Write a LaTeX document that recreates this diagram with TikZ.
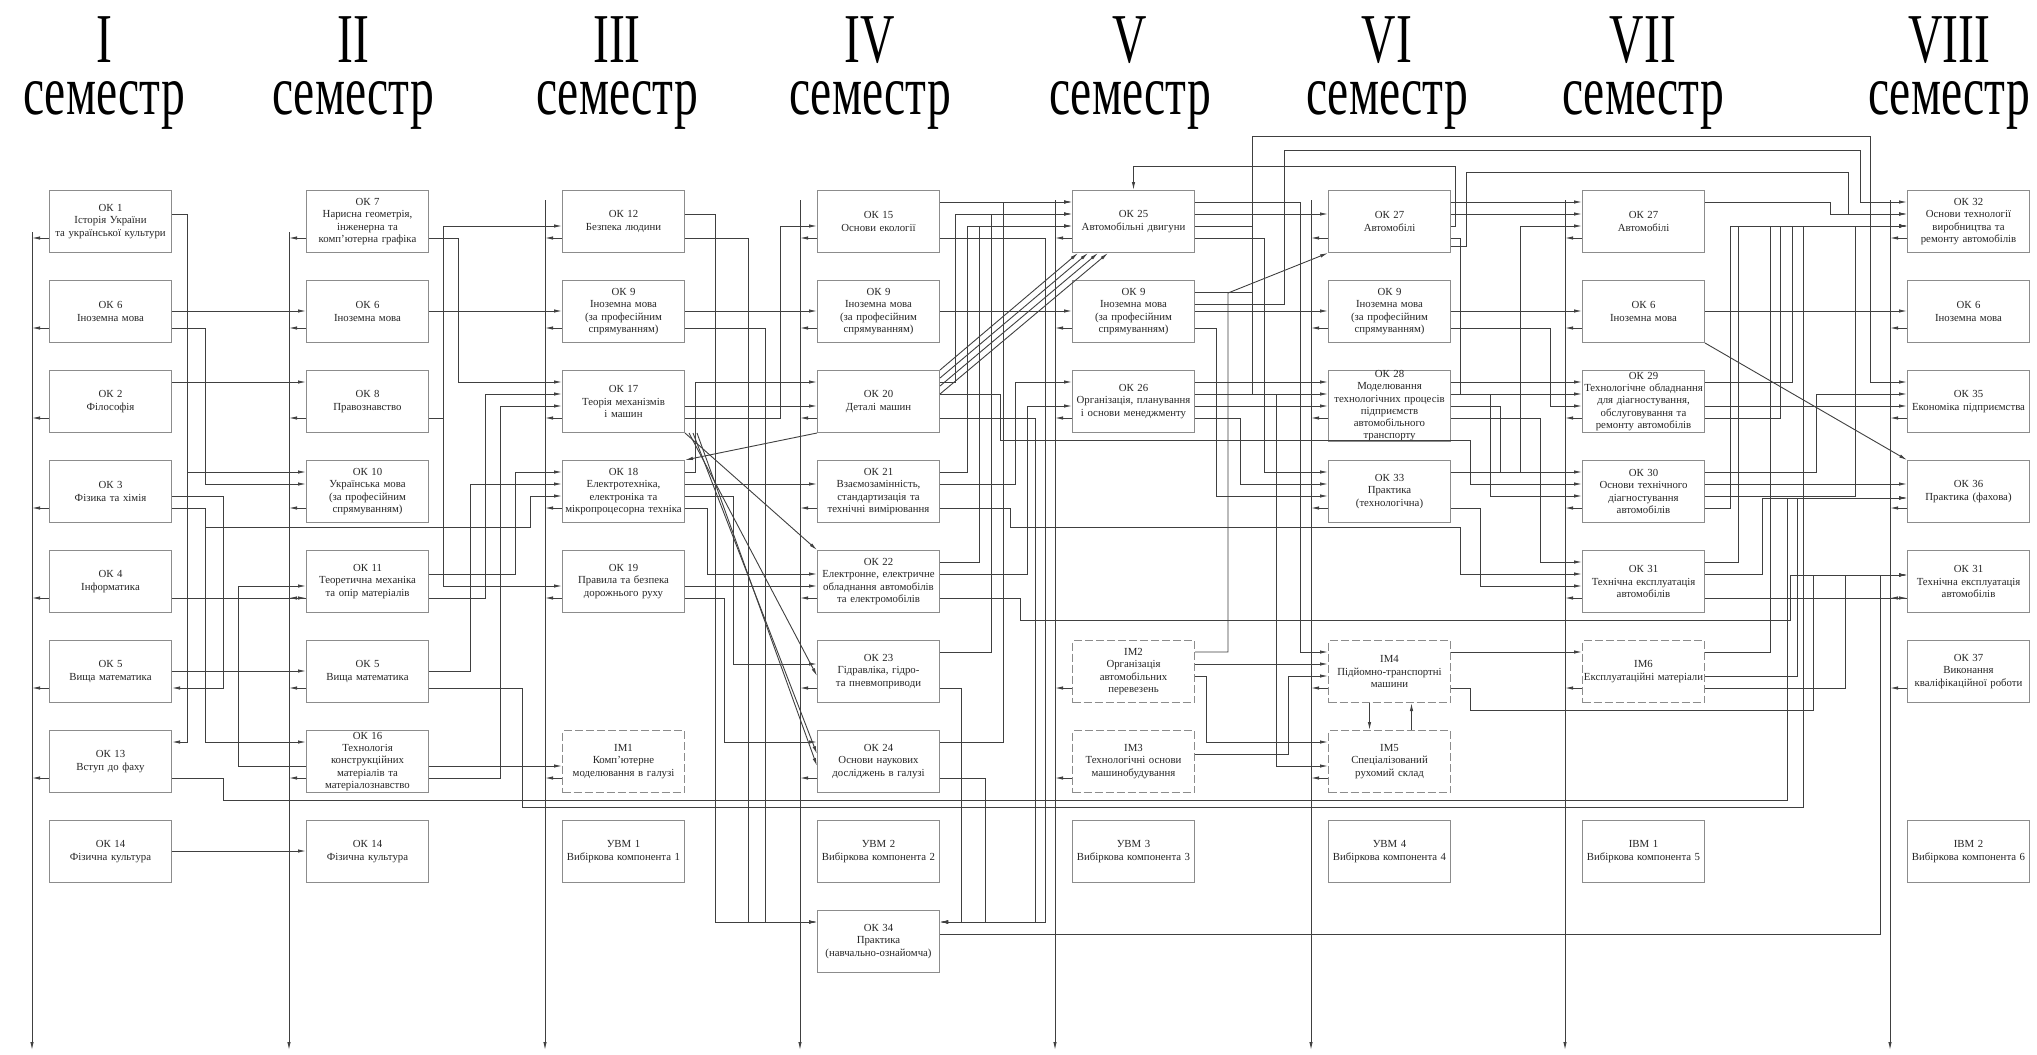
\documentclass[tikz,border=0pt]{standalone}
\usepackage{fontspec}
\usepackage{graphicx}
\setmainfont{Liberation Serif}
\usetikzlibrary{arrows.meta,calc}
\definecolor{lc}{gray}{0.25}
\definecolor{bc}{gray}{0.55}
\definecolor{tc}{gray}{0.15}
\begin{document}
\begin{tikzpicture}[x=0.5pt,y=-0.5pt,
 box/.style={draw=bc, line width=0.5pt, anchor=north west, minimum width=61pt, minimum height=31pt, text width=60pt, align=center, inner sep=0pt, font=\fontsize{5.4}{6.1}\selectfont, text=tc},
 dbox/.style={box, dash pattern=on 4pt off 1.5pt},
 ar/.style={draw=lc, line width=0.45pt, -{Latex[length=4pt,width=1.7pt]}},
 ttl/.style={font=\fontsize{35}{26}\selectfont, anchor=north, align=center, inner sep=0pt, text=black}]
\useasboundingbox (0,0) rectangle (2037,1054);
\fill[white] (0,0) rectangle (2037,1054);

% titles
\foreach \x/\r [count=\i] in {104/I,353/II,617/III,870/IV,1130/V,1387/VI,1643/VII,1949/VIII}{
  \node[ttl] (sem\i) at (\x,16) {\scalebox{0.68}[1]{\r}\\\scalebox{0.68}[1]{семестр}};
}

% column I
\node[box] (a1) at (49,190) {ОК 1\\Історія України\\та української культури};
\node[box] (a2) at (49,280) {ОК 6\\Іноземна мова};
\node[box] (a3) at (49,370) {ОК 2\\Філософія};
\node[box] (a4) at (49,460) {ОК 3\\Фізика та хімія};
\node[box] (a5) at (49,550) {ОК 4\\Інформатика};
\node[box] (a6) at (49,640) {ОК 5\\Вища математика};
\node[box] (a7) at (49,730) {ОК 13\\Вступ до фаху};
\node[box] (a8) at (49,820) {ОК 14\\Фізична культура};
% column II
\node[box] (b1) at (306,190) {ОК 7\\Нарисна геометрія,\\інженерна та\\комп'ютерна графіка};
\node[box] (b2) at (306,280) {ОК 6\\Іноземна мова};
\node[box] (b3) at (306,370) {ОК 8\\Правознавство};
\node[box] (b4) at (306,460) {ОК 10\\Українська мова\\(за професійним\\спрямуванням)};
\node[box] (b5) at (306,550) {ОК 11\\Теоретична механіка\\та опір матеріалів};
\node[box] (b6) at (306,640) {ОК 5\\Вища математика};
\node[box] (b7) at (306,730) {ОК 16\\Технологія\\конструкційних\\матеріалів та\\матеріалознавство};
\node[box] (b8) at (306,820) {ОК 14\\Фізична культура};
% column III
\node[box] (c1) at (562,190) {ОК 12\\Безпека людини};
\node[box] (c2) at (562,280) {ОК 9\\Іноземна мова\\(за професійним\\спрямуванням)};
\node[box] (c3) at (562,370) {ОК 17\\Теорія механізмів\\і машин};
\node[box] (c4) at (562,460) {ОК 18\\Електротехніка,\\електроніка та\\мікропроцесорна техніка};
\node[box] (c5) at (562,550) {ОК 19\\Правила та безпека\\дорожнього руху};
\node[dbox] (c7) at (562,730) {ІМ1\\Комп'ютерне\\моделювання в галузі};
\node[box] (c8) at (562,820) {УВМ 1\\Вибіркова компонента 1};
% column IV
\node[box] (d1) at (817,190) {ОК 15\\Основи екології};
\node[box] (d2) at (817,280) {ОК 9\\Іноземна мова\\(за професійним\\спрямуванням)};
\node[box] (d3) at (817,370) {ОК 20\\Деталі машин};
\node[box] (d4) at (817,460) {ОК 21\\Взаємозамінність,\\стандартизація та\\технічні вимірювання};
\node[box] (d5) at (817,550) {ОК 22\\Електронне, електричне\\обладнання автомобілів\\та електромобілів};
\node[box] (d6) at (817,640) {ОК 23\\Гідравліка, гідро-\\та пневмоприводи};
\node[box] (d7) at (817,730) {ОК 24\\Основи наукових\\досліджень в галузі};
\node[box] (d8) at (817,820) {УВМ 2\\Вибіркова компонента 2};
\node[box] (d9) at (817,910) {ОК 34\\Практика\\(навчально-ознайомча)};
% column V
\node[box] (e1) at (1072,190) {ОК 25\\Автомобільні двигуни};
\node[box] (e2) at (1072,280) {ОК 9\\Іноземна мова\\(за професійним\\спрямуванням)};
\node[box] (e3) at (1072,370) {ОК 26\\Організація, планування\\і основи менеджменту};
\node[dbox] (e6) at (1072,640) {ІМ2\\Організація\\автомобільних\\перевезень};
\node[dbox] (e7) at (1072,730) {ІМ3\\Технологічні основи\\машинобудування};
\node[box] (e8) at (1072,820) {УВМ 3\\Вибіркова компонента 3};
% column VI
\node[box] (f1) at (1328,190) {ОК 27\\Автомобілі};
\node[box] (f2) at (1328,280) {ОК 9\\Іноземна мова\\(за професійним\\спрямуванням)};
\node[box] (f3) at (1328,370) {ОК 28\\Моделювання\\технологічних процесів\\підприємств\\автомобільного транспорту};
\node[box] (f4) at (1328,460) {ОК 33\\Практика\\(технологічна)};
\node[dbox] (f6) at (1328,640) {ІМ4\\Підйомно-транспортні\\машини};
\node[dbox] (f7) at (1328,730) {ІМ5\\Спеціалізований\\рухомий склад};
\node[box] (f8) at (1328,820) {УВМ 4\\Вибіркова компонента 4};
% column VII
\node[box] (g1) at (1582,190) {ОК 27\\Автомобілі};
\node[box] (g2) at (1582,280) {ОК 6\\Іноземна мова};
\node[box] (g3) at (1582,370) {ОК 29\\Технологічне обладнання\\для діагностування,\\обслуговування та\\ремонту автомобілів};
\node[box] (g4) at (1582,460) {ОК 30\\Основи технічного\\діагностування\\автомобілів};
\node[box] (g5) at (1582,550) {ОК 31\\Технічна експлуатація\\автомобілів};
\node[dbox] (g6) at (1582,640) {ІМ6\\Експлуатаційні матеріали};
\node[box] (g8) at (1582,820) {ІВМ 1\\Вибіркова компонента 5};
% column VIII
\node[box] (h1) at (1907,190) {ОК 32\\Основи технології\\виробництва та\\ремонту автомобілів};
\node[box] (h2) at (1907,280) {ОК 6\\Іноземна мова};
\node[box] (h3) at (1907,370) {ОК 35\\Економіка підприємства};
\node[box] (h4) at (1907,460) {ОК 36\\Практика (фахова)};
\node[box] (h5) at (1907,550) {ОК 31\\Технічна експлуатація\\автомобілів};
\node[box] (h6) at (1907,640) {ОК 37\\Виконання\\кваліфікаційної роботи};
\node[box] (h8) at (1907,820) {ІВМ 2\\Вибіркова компонента 6};

% buses
\foreach \b/\x/\t in {A/32/232,B/289/232,C/545/200,D/800/200,E/1055/200,F/1311/200,G/1565/200,H/1890/200}{
  \coordinate (bus\b) at (\x,\t);
  \coordinate (end\b) at (\x,1050);
  \draw[ar] (bus\b) -- (end\b);
}
\foreach \n/\y/\b in {a1/238/A,a2/328/A,a3/418/A,a4/508/A,a5/598/A,a6/688/A,a7/778/A,
  b1/238/B,b2/328/B,b3/418/B,b4/508/B,b5/598/B,b6/688/B,b7/778/B,
  c1/238/C,c2/328/C,c3/418/C,c4/508/C,c5/598/C,c7/778/C,
  d1/238/D,d2/328/D,d3/418/D,d4/508/D,d5/598/D,d6/688/D,d7/778/D,
  e1/238/E,e2/328/E,e3/418/E,e6/688/E,e7/778/E,
  f1/238/F,f2/328/F,f3/418/F,f4/508/F,f6/688/F,f7/778/F,
  g1/238/G,g2/328/G,g3/418/G,g4/508/G,g5/598/G,g6/688/G,
  h1/238/H,h2/328/H,h3/418/H,h4/508/H,h5/598/H,h6/688/H}{
  \draw[ar] (\n.west|-0,\y) -- (bus\b|-0,\y);
}

% gap I-II
\draw[ar] (a1.east|-0,214) -| (187,472) -- (b4.west|-0,472);
\draw[ar] (a1.east|-0,214) -| (187,742) -- (a7.east|-0,742);
\draw[ar] (a2.east|-0,311) -- (b2.west|-0,311);
\draw[ar] (a2.east|-0,328) -| (205,484) -- (b4.west|-0,484);
\draw[ar] (a3.east|-0,382) -- (b3.west|-0,382);
\draw[ar] (a4.east|-0,496) -| (223,688) -- (a6.east|-0,688);
\draw[ar] (a4.east|-0,508) -| (205,742) -- (b7.west|-0,742);
\draw[ar] (a4.east|-0,508) -| (205,527) -- (530,527) -- (530,496) -- (c4.west|-0,496);
\draw[ar] (a5.east|-0,598) -- (b5.west|-0,598);
\draw[ar] (a6.east|-0,671) -- (b6.west|-0,671);
\draw[ar] (a7.east|-0,778) -| (223,800) -- (1787,800) -- (1787,498) -- (h4.west|-0,498);
\draw[ar] (a8.east|-0,851) -- (b8.west|-0,851);
\draw[ar] (b7.west|-0,766) -| (238,586) -- (b5.west|-0,586);

% gap II-III
\draw[ar] (b1.east|-0,238) -| (458,382) -- (c3.west|-0,382);
\draw[ar] (b2.east|-0,311) -- (c2.west|-0,311);
\draw[ar] (b3.east|-0,418) -| (443,226) -- (c1.west|-0,226);
\draw[ar] (b3.east|-0,418) -| (443,586) -- (c5.west|-0,586);
\draw[ar] (b5.east|-0,598) -| (485,394) -- (c3.west|-0,394);
\draw[ar] (b6.east|-0,671) -| (470,484) -- (c4.west|-0,484);
\draw[ar] (b7.east|-0,778) -| (500,406) -- (c3.west|-0,406);
\draw[ar] (b5.east|-0,574) -| (515,472) -- (c4.west|-0,472);
\draw[ar] (b7.east|-0,766) -- (c7.west|-0,766);
\draw[ar] (b6.east|-0,688) -| (522,807) -- (1803,807) -- (1803,226) -- (h1.west|-0,226);

% gap III-IV
\draw[ar] (c1.east|-0,238) -| (748,922) -- (d9.west|-0,922);
\draw[ar] (c1.east|-0,214) -| (715,922) -- (d9.west|-0,922);
\draw[ar] (c2.east|-0,328) -| (765,922) -- (d9.west|-0,922);
\draw[ar] (c3.east|-0,418) -| (780,226) -- (d1.west|-0,226);
\draw[ar] (c2.east|-0,311) -- (d2.west|-0,311);
\draw[ar] (c3.east|-0,406) -- (d3.west|-0,406);
\draw[ar] (c4.east|-0,472) -| (695,382) -- (d3.west|-0,382);
\draw[ar] (c4.east|-0,484) -- (d4.west|-0,484);
\draw[ar] (c4.east|-0,508) -| (707,574) -- (d5.west|-0,574);
\draw[ar] (c5.east|-0,586) -- (d5.west|-0,586);
\draw[ar] (c4.east|-0,496) -| (733,664) -- (d6.west|-0,664);
\draw[ar] (c5.east|-0,598) -| (724,742) -- (d7.west|-0,742);
\draw[ar] (c3.south east) -- (d5.north west);
\draw[ar] ([xshift=2pt]c3.south east) -- (d6.west|-0,676);
\draw[ar] ([xshift=4pt]c3.south east) -- (d7.west|-0,754);
\draw[ar] ([xshift=6pt]c3.south east) -- (d7.west|-0,766);
\draw[ar] (d3.south west) -- (c4.north east);

% gap IV-V
\draw[ar] (d1.east|-0,202) -- (e1.west|-0,202);
\draw[ar] (d2.east|-0,311) -- (e2.west|-0,311);
\draw[ar] (d3.east|-0,382) -| (955,214) -- (e1.west|-0,214);
\draw[ar] (d4.east|-0,472) -| (967,226) -- (e1.west|-0,226);
\draw[ar] (d5.east|-0,562) -| (979,226) -- (e1.west|-0,226);
\draw[ar] (d6.east|-0,652) -| (991,214) -- (e1.west|-0,214);
\draw[ar] (d7.east|-0,742) -| (1003,202) -- (e1.west|-0,202);
\draw[ar] (d4.east|-0,484) -| (1015,382) -- (e3.west|-0,382);
\draw[ar] (d5.east|-0,574) -| (1027,406) -- (e3.west|-0,406);
\foreach \k in {0,1,2,3}{
  \draw[ar] ([yshift={-4pt*\k}]d3.north east) -- ([xshift={3pt+5pt*\k}]e1.south west);
}
\draw[ar] (d1.east|-0,238) -| (1045,922) -- (d9.east|-0,922);
\draw[ar] (d3.east|-0,418) -| (1035,922) -- (d9.east|-0,922);
\draw[ar] (d6.east|-0,688) -| (961,922) -- (d9.east|-0,922);
\draw[ar] (d7.east|-0,778) -| (985,922) -- (d9.east|-0,922);
\draw[ar] (d9.east|-0,934) -| (1880,575) -- (h5.west|-0,575);
\draw[ar] (d5.east|-0,598) -| (1020,620) -- (1790,620) -- (1790,575) -- (h5.west|-0,575);
\draw[ar] (d4.east|-0,508) -| (1010,527) -- (1460,527) -- (1460,574) -- (g5.west|-0,574);
\draw[ar] (d3.east|-0,394) -| (1000,440) -- (1470,440) -- (1470,484) -- (g4.west|-0,484);

% gap V-VI
\draw[ar] (e1.east|-0,214) -- (f1.west|-0,214);
\draw[ar] (e2.east|-0,311) -- (f2.west|-0,311);
\draw[ar] (e3.east|-0,382) -- (f3.west|-0,382);
\draw[ar] (e3.east|-0,406) -- (f3.west|-0,406);
\draw[ar] (e6.east|-0,652) -| (1228,293) -- (f1.south west);
\draw[ar] (e1.east|-0,238) -| (1264,472) -- (f4.west|-0,472);
\draw[ar] (e3.east|-0,418) -| (1240,484) -- (f4.west|-0,484);
\draw[ar] (e2.east|-0,328) -| (1216,496) -- (f4.west|-0,496);
\draw[ar] (e6.east|-0,664) -- (f6.west|-0,664);
\draw[ar] (e6.east|-0,676) -| (1206,742) -- (f7.west|-0,742);
\draw[ar] (e3.east|-0,394) -| (1276,766) -- (f7.west|-0,766);
\draw[ar] (e1.east|-0,202) -| (1300,652) -- (f6.west|-0,652);
\draw[ar] (e1.east|-0,226) -| (1252,394) -- (f3.west|-0,394);
\draw[ar] (e7.east|-0,754) -| (1288,676) -- (f6.west|-0,676);
\draw[ar] ([xshift=-10pt]f6.south) -- ([xshift=-10pt]f7.north);
\draw[ar] ([xshift=11pt]f7.north) -- ([xshift=11pt]f6.south);

% gap VI-VII
\draw[ar] (f1.east|-0,202) -- (g1.west|-0,202);
\draw[ar] (f1.east|-0,214) -- (g1.west|-0,214);
\draw[ar] (f2.east|-0,311) -- (g2.west|-0,311);
\draw[ar] (f3.east|-0,382) -- (g3.west|-0,382);
\draw[ar] (f3.east|-0,406) -| (1500,472) -- (g4.west|-0,472);
\draw[ar] (f4.east|-0,472) -| (1520,226) -- (g1.west|-0,226);
\draw[ar] (f3.east|-0,418) -| (1540,562) -- (g5.west|-0,562);
\draw[ar] (f4.east|-0,508) -| (1480,586) -- (g5.west|-0,586);
\draw[ar] (f1.east|-0,238) -| (1460,394) -- (g3.west|-0,394);
\draw[ar] (f3.east|-0,394) -| (1490,496) -- (g4.west|-0,496);
\draw[ar] (f2.east|-0,328) -| (1550,406) -- (g3.west|-0,406);
\draw[ar] (f6.east|-0,652) -- (g6.west|-0,652);

% gap VII-VIII
\draw[ar] (g1.east|-0,202) -| (1830,214) -- (h1.west|-0,214);
\draw[ar] (g2.east|-0,311) -- (h2.west|-0,311);
\draw[ar] (g3.east|-0,382) -| (1792,226) -- (h1.west|-0,226);
\draw[ar] (g4.east|-0,472) -| (1816,394) -- (h3.west|-0,394);
\draw[ar] (g3.east|-0,406) -- (h3.west|-0,406);
\draw[ar] (g4.east|-0,484) -- (h4.west|-0,484);
\draw[ar] (g5.east|-0,574) -| (1762,498) -- (h4.west|-0,498);
\draw[ar] (g5.east|-0,598) -- (h5.west|-0,598);
\draw[ar] (g6.east|-0,652) -| (1770,226) -- (h1.west|-0,226);
\draw[ar] (g2.south east) -- (h4.north west);
\draw[ar] (g4.east|-0,508) -| (1730,226) -- (h1.west|-0,226);
\draw[ar] (g5.east|-0,562) -| (1738,226) -- (h1.west|-0,226);
\draw[ar] (g3.east|-0,418) -| (1780,226) -- (h1.west|-0,226);
\draw[ar] (g4.east|-0,496) -| (1855,226) -- (h1.west|-0,226);
\draw[ar] (g6.east|-0,676) -| (1797,498) -- (h4.west|-0,498);
\draw[ar] (f6.east|-0,688) -| (1470,710) -- (1813,710) -- (1813,575) -- (h5.west|-0,575);
\draw[ar] (g6.east|-0,688) -| (1845,575) -- (h5.west|-0,575);

% top lines
\draw[ar] (e2.east|-0,292) -| (1252,136) -- (1870,136) -- (1870,382) -- (h3.west|-0,382);
\draw[ar] (e2.east|-0,304) -| (1284,150) -- (1860,150) -- (1860,202) -- (h1.west|-0,202);
\draw[ar] (f1.east|-0,226) -| (1455,166) -- (e1.north|-0,166) -- (e1.north);
\draw[ar] (f1.east|-0,246) -| (1466,172) -- (1848,172) -- (1848,214) -- (h1.west|-0,214);
\end{tikzpicture}
\end{document}
